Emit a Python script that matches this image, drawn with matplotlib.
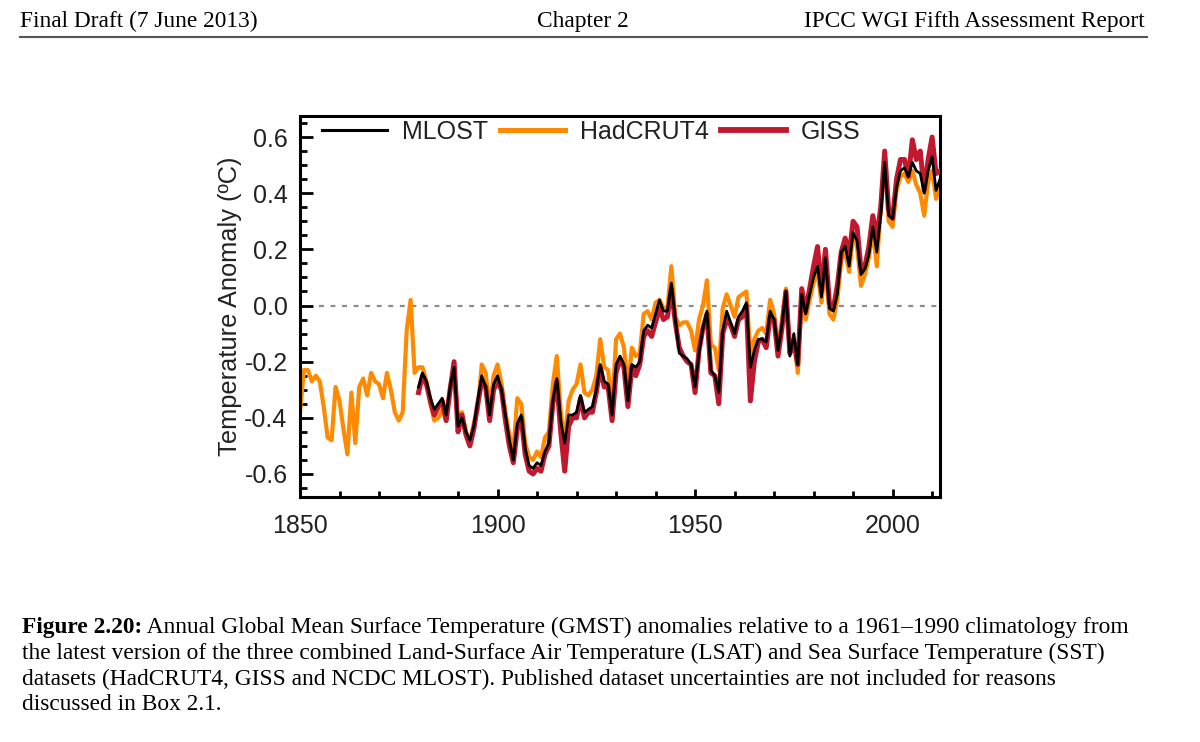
import matplotlib
matplotlib.use('Agg')
import matplotlib.pyplot as plt
from matplotlib.ticker import MultipleLocator

# HadCRUT4 annual anomalies (1961-1990 base), 1850-2012
had_years = list(range(1850, 2013))
hadcrut4 = [
    -0.38, -0.23, -0.23, -0.27, -0.25, -0.27, -0.36, -0.47, -0.48, -0.29,
    -0.34, -0.44, -0.53, -0.31, -0.49, -0.29, -0.26, -0.32, -0.24, -0.27,
    -0.28, -0.33, -0.24, -0.30, -0.38, -0.41, -0.38, -0.09, 0.02, -0.24,
    -0.22, -0.22, -0.27, -0.35, -0.41, -0.40, -0.37, -0.41, -0.29, -0.22,
    -0.41, -0.38, -0.45, -0.48, -0.42, -0.37, -0.21, -0.24, -0.37, -0.25,
    -0.21, -0.28, -0.38, -0.46, -0.52, -0.33, -0.35, -0.49, -0.54, -0.55,
    -0.52, -0.54, -0.47, -0.45, -0.28, -0.18, -0.38, -0.48, -0.34, -0.30,
    -0.28, -0.21, -0.31, -0.32, -0.30, -0.25, -0.12, -0.22, -0.23, -0.37,
    -0.12, -0.10, -0.15, -0.30, -0.15, -0.18, -0.17, -0.03, -0.02, -0.05,
    0.01, 0.02, -0.01, -0.01, 0.14, -0.04, -0.07, -0.06, -0.06, -0.09,
    -0.16, -0.05, 0.00, 0.09, -0.14, -0.15, -0.23, -0.01, 0.04, 0.00,
    -0.04, 0.03, 0.04, 0.05, -0.18, -0.12, -0.09, -0.08, -0.10, 0.02,
    -0.03, -0.15, -0.05, 0.06, -0.17, -0.12, -0.24, 0.03, -0.05, 0.02,
    0.08, 0.12, 0.01, 0.15, -0.03, -0.05, 0.02, 0.16, 0.19, 0.12,
    0.25, 0.21, 0.07, 0.11, 0.17, 0.27, 0.14, 0.35, 0.52, 0.30,
    0.28, 0.41, 0.46, 0.47, 0.44, 0.48, 0.43, 0.40, 0.32, 0.44,
    0.48, 0.38, 0.42,
]

# GISS and MLOST start in 1880
years = list(range(1880, 2013))
giss = [
    -0.31, -0.25, -0.28, -0.34, -0.39, -0.36, -0.34, -0.41, -0.30, -0.20,
    -0.45, -0.39, -0.46, -0.50, -0.44, -0.35, -0.27, -0.29, -0.41, -0.30,
    -0.27, -0.30, -0.41, -0.50, -0.56, -0.44, -0.40, -0.53, -0.59, -0.60,
    -0.58, -0.59, -0.53, -0.50, -0.35, -0.27, -0.45, -0.59, -0.43, -0.40,
    -0.40, -0.33, -0.40, -0.38, -0.38, -0.31, -0.22, -0.29, -0.29, -0.41,
    -0.24, -0.19, -0.22, -0.36, -0.22, -0.25, -0.21, -0.11, -0.09, -0.11,
    -0.06, -0.01, -0.05, -0.04, 0.06, -0.06, -0.15, -0.18, -0.20, -0.21,
    -0.31, -0.16, -0.08, -0.03, -0.24, -0.25, -0.35, -0.10, -0.05, -0.07,
    -0.11, -0.05, -0.04, 0.00, -0.34, -0.20, -0.13, -0.12, -0.15, -0.04,
    -0.05, -0.18, -0.08, 0.05, -0.17, -0.13, -0.21, 0.06, -0.02, 0.06,
    0.14, 0.21, 0.05, 0.20, 0.01, -0.01, 0.07, 0.19, 0.24, 0.18,
    0.30, 0.28, 0.13, 0.14, 0.21, 0.32, 0.24, 0.35, 0.55, 0.34,
    0.31, 0.45, 0.52, 0.52, 0.46, 0.59, 0.52, 0.55, 0.41, 0.52,
    0.60, 0.47, 0.48,
]
mlost = [
    -0.29, -0.24, -0.27, -0.33, -0.37, -0.35, -0.33, -0.39, -0.29, -0.22,
    -0.43, -0.40, -0.45, -0.48, -0.43, -0.34, -0.25, -0.29, -0.39, -0.28,
    -0.25, -0.30, -0.39, -0.48, -0.55, -0.42, -0.39, -0.51, -0.57, -0.58,
    -0.56, -0.57, -0.52, -0.49, -0.34, -0.26, -0.41, -0.49, -0.39, -0.39,
    -0.38, -0.32, -0.38, -0.37, -0.36, -0.30, -0.21, -0.27, -0.28, -0.39,
    -0.21, -0.18, -0.21, -0.34, -0.21, -0.22, -0.20, -0.09, -0.07, -0.08,
    -0.03, 0.02, -0.02, -0.02, 0.08, -0.05, -0.17, -0.18, -0.19, -0.21,
    -0.29, -0.17, -0.08, -0.02, -0.23, -0.25, -0.31, -0.09, -0.02, -0.06,
    -0.10, -0.04, -0.02, 0.01, -0.22, -0.16, -0.12, -0.12, -0.13, -0.02,
    -0.05, -0.16, -0.07, 0.05, -0.18, -0.10, -0.21, 0.04, -0.03, 0.04,
    0.10, 0.14, 0.03, 0.17, -0.01, -0.02, 0.04, 0.19, 0.21, 0.14,
    0.26, 0.23, 0.11, 0.13, 0.18, 0.28, 0.19, 0.32, 0.51, 0.32,
    0.31, 0.42, 0.48, 0.49, 0.46, 0.51, 0.48, 0.47, 0.40, 0.48,
    0.53, 0.41, 0.45,
]

header_left = 'Final Draft (7 June 2013)'
header_mid = 'Chapter 2'
header_right = 'IPCC WGI Fifth Assessment Report'
caption_bold = 'Figure 2.20:'
caption_lines = [
    ' Annual Global Mean Surface Temperature (GMST) anomalies relative to a 1961\u20131990 climatology from',
    'the latest version of the three combined Land-Surface Air Temperature (LSAT) and Sea Surface Temperature (SST)',
    'datasets (HadCRUT4, GISS and NCDC MLOST). Published dataset uncertainties are not included for reasons',
    'discussed in Box 2.1.',
]

serif = 'Liberation Serif'
sans = 'Liberation Sans'
txt_col = '#222222'
page_fs = 16.8
chart_fs = 18

fig = plt.figure(figsize=(12, 7.42), dpi=100)

# page header
hy = 1 - 21 / 742
fig.text(20 / 1200, hy, header_left, family=serif, fontsize=page_fs, va='center', ha='left')
fig.text(583 / 1200, hy, header_mid, family=serif, fontsize=page_fs, va='center', ha='center')
fig.text(1145 / 1200, hy, header_right, family=serif, fontsize=page_fs, va='center', ha='right')
fig.add_artist(plt.Line2D([20 / 1200, 1147 / 1200], [1 - 37 / 742, 1 - 37 / 742],
                          transform=fig.transFigure, color='#555555', lw=1.5))

# chart
ax = fig.add_axes([300 / 1200, 1 - 497 / 742, 640 / 1200, 381 / 742])
ax.axhline(0, xmin=0.03, color='#8c8c8c', lw=1.6, dashes=(2.2, 3.0), zorder=1)
ax.plot(had_years, hadcrut4, color='#ff8a00', lw=3.0, label='HadCRUT4', zorder=2)
ax.plot(years, giss, color='#c0182e', lw=3.6, label='GISS', zorder=3)
ax.plot(years, mlost, color='black', lw=2.0, label='MLOST', zorder=4)

ax.set_xlim(1850, 2012)
ax.set_ylim(-0.682, 0.675)
ax.set_yticks([-0.6, -0.4, -0.2, 0.0, 0.2, 0.4, 0.6])
ax.set_yticklabels(['-0.6', '-0.4', '-0.2', '0.0', '0.2', '0.4', '0.6'])
ax.set_xticks([1850, 1900, 1950, 2000])
ax.set_xticklabels(['1850', '1900', '1950', '2000'])
ax.xaxis.set_minor_locator(MultipleLocator(10))
ax.yaxis.set_minor_locator(MultipleLocator(0.05))

for sp in ax.spines.values():
    sp.set_linewidth(2.2)
ax.tick_params(axis='y', which='major', direction='in', length=9, width=2.0, pad=9,
               labelsize=chart_fs, labelcolor=txt_col)
ax.tick_params(axis='y', which='minor', direction='in', length=5, width=2.0)
ax.tick_params(axis='x', which='major', direction='in', length=6, width=2.0, pad=12,
               labelsize=chart_fs, labelcolor=txt_col)
ax.tick_params(axis='x', which='minor', direction='in', length=4, width=2.0)
for lab in ax.get_xticklabels() + ax.get_yticklabels():
    lab.set_family(sans)

ax.set_ylabel('Temperature Anomaly (\u00baC)', family=sans, fontsize=18.3, color=txt_col)
ax.yaxis.set_label_coords(-58 / 640, 0.5)

handles, labels = ax.get_legend_handles_labels()
order = [2, 0, 1]
leg = ax.legend([handles[i] for i in order], [labels[i] for i in order], ncol=3,
                loc='center left', bbox_to_anchor=(22 / 640, 1 - 16 / 381), frameon=False,
                prop={'family': sans, 'size': chart_fs}, handlelength=2.6,
                handletextpad=0.58, columnspacing=0.5, borderaxespad=0.0, borderpad=0.0)
for t in leg.get_texts():
    t.set_color(txt_col)
leg.legend_handles[0].set_linewidth(2.2)
leg.legend_handles[1].set_linewidth(3.6)
leg.legend_handles[2].set_linewidth(4.2)

# caption
cap_y = [627, 653, 679, 705]
bold = fig.text(22 / 1200, 1 - cap_y[0] / 742, caption_bold, family=serif, fontsize=page_fs,
                fontweight='bold', va='center', ha='left')
fig.canvas.draw()
bb = bold.get_window_extent()
fig.text(bb.x1 / 1200, 1 - cap_y[0] / 742, caption_lines[0], family=serif, fontsize=page_fs,
         va='center', ha='left')
for yy, line in zip(cap_y[1:], caption_lines[1:]):
    fig.text(22 / 1200, 1 - yy / 742, line, family=serif, fontsize=page_fs, va='center', ha='left')

fig.savefig('out.png', dpi=100)
